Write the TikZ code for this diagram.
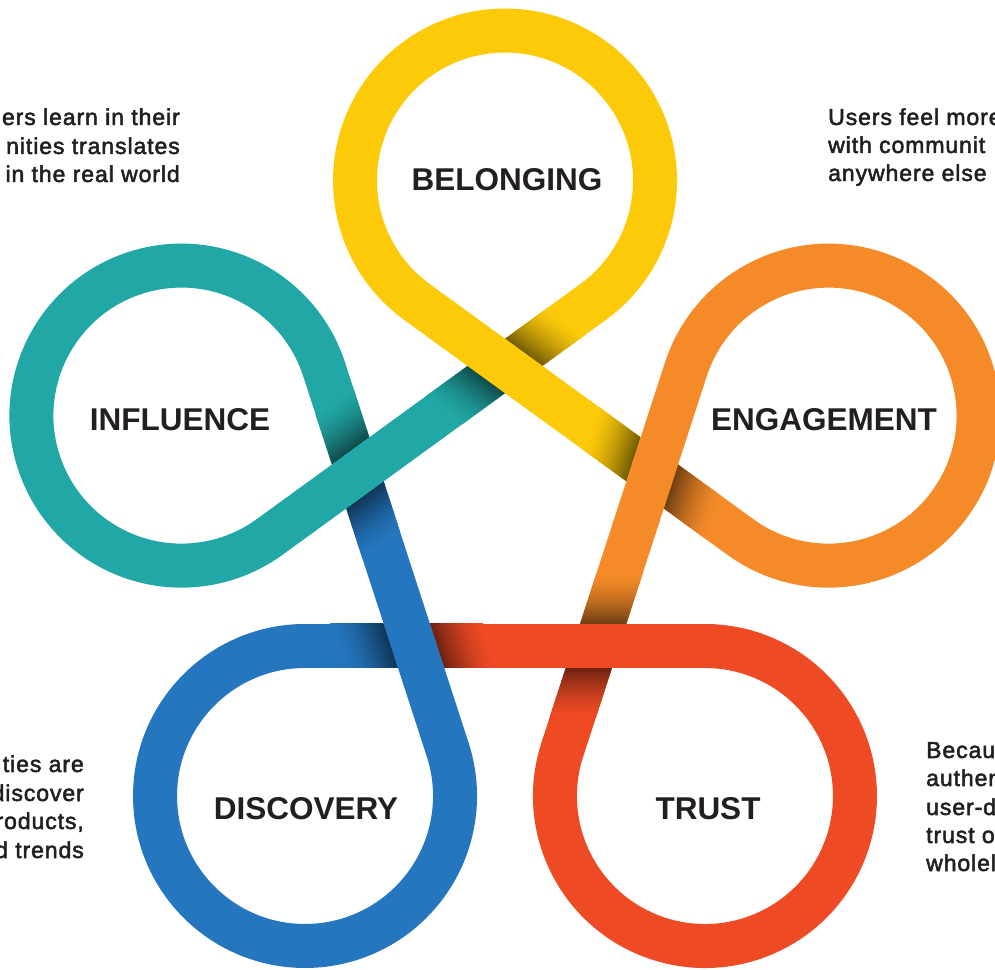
\documentclass[tikz,border=0pt]{standalone}
\usepackage{fontspec}
\setmainfont{Liberation Sans}
\newfontfamily\descfont[LetterSpace=4,FakeBold=2.2]{Liberation Sans}
\usetikzlibrary{calc}
\definecolor{yel}{RGB}{253,202,10}
\definecolor{org}{RGB}{244,138,40}
\definecolor{rd}{RGB}{238,74,36}
\definecolor{blu}{RGB}{36,118,190}
\definecolor{tea}{RGB}{33,167,165}
\definecolor{ink}{RGB}{35,31,32}
\begin{document}
\begin{tikzpicture}[x=1pt,y=1pt,
  lab/.style={font=\bfseries\fontsize{31.5}{36}\selectfont, text=ink, inner sep=0pt},
  desc/.style={font=\descfont\fontsize{23}{28.7}\selectfont, text=ink, inner sep=0pt},
  descl/.style={desc, anchor=base west},
  descr/.style={desc, anchor=base east},
  ribbon/.style={line width=44pt}]
\useasboundingbox (0,0) rectangle (995,969);
\fill[white] (0,0) rectangle (995,969);
\coordinate (P) at (505,448.24);
% vertices of the pentagon and loop centres
\foreach \n/\th in {B/90,E/18,T/-54,D/-126,I/162}{
  \path (P) ++(\th:154.8) coordinate (V\n) ++(\th:185.41) coordinate (C\n);
}
% loops
\foreach \n/\th/\c in {B/90/yel,E/18/org,T/-54/rd,D/-126/blu,I/162/tea}{
  \pgfmathsetmacro\a{\th+216}
  \draw[ribbon, \c] (C\n) ++(\a:150) arc[start angle=\a, delta angle=288, radius=150];
}
% under halves with shadows
\foreach \n/\th/\c/\p in {B/90/yel/tea, E/18/org/yel, T/-54/rd/org, D/-126/blu/rd, I/162/tea/blu}{
  \begin{scope}[shift={(V\n)}, rotate=\th-54]
    \fill[\p] (-91.5,-22) rectangle (0.5,22);
    \fill[\c] (0,-22) rectangle (110,22);
    \clip (-91.5,-22) rectangle (110,22);
    \begin{scope}[rotate=-72]
      \foreach \i in {0,...,24}{
        \pgfmathsetmacro\m{100-55*(1-(\i+0.5)/25)^1.5}
        \fill[\c!\m!black] (-150,{22+2*\i}) rectangle (150,{24.6+2*\i});
        \fill[\p!\m!black] (-150,{-22-2*\i}) rectangle (150,{-24.6-2*\i});
      }
    \end{scope}
  \end{scope}
}
% over halves
\foreach \n/\th/\c in {B/90/yel,E/18/org,T/-54/rd,D/-126/blu,I/162/tea}{
  \begin{scope}[shift={(V\n)}, rotate=\th-126]
    \fill[\c] (-110,-22) rectangle (91.5,22);
  \end{scope}
}
% labels
\node[lab] (belonging) at (507,789) {BELONGING};
\node[lab] (engagement) at (824,549) {ENGAGEMENT};
\node[lab] (influence) at (180,549) {INFLUENCE};
\node[lab] (discovery) at (306,160.5) {DISCOVERY};
\node[lab] (trust) at (708,160.5) {TRUST};
% descriptions
\node[descr] (tl1) at (180,844) {ers learn in their};
\node[descr] (tl2) at (180,815) {nities translates};
\node[descr] (tl3) at (180,787) {in the real world};
\node[descl] (tr1) at (828,844) {Users feel more};
\node[descl] (tr2) at (828,816) {with communit};
\node[descl] (tr3) at (828,788) {anywhere else};
\node[descr] (bl1) at (84,197) {ties are};
\node[descr] (bl2) at (84,168) {discover};
\node[descr] (bl3) at (84,140) {roducts,};
\node[descr] (bl4) at (84,111) {d trends};
\node[descl] (br1) at (926,211) {Becau};
\node[descl] (br2) at (926,183) {authen};
\node[descl] (br3) at (926,154) {user-d};
\node[descl] (br4) at (926,126) {trust o};
\node[descl] (br5) at (926,98) {wholel};
\end{tikzpicture}
\end{document}
